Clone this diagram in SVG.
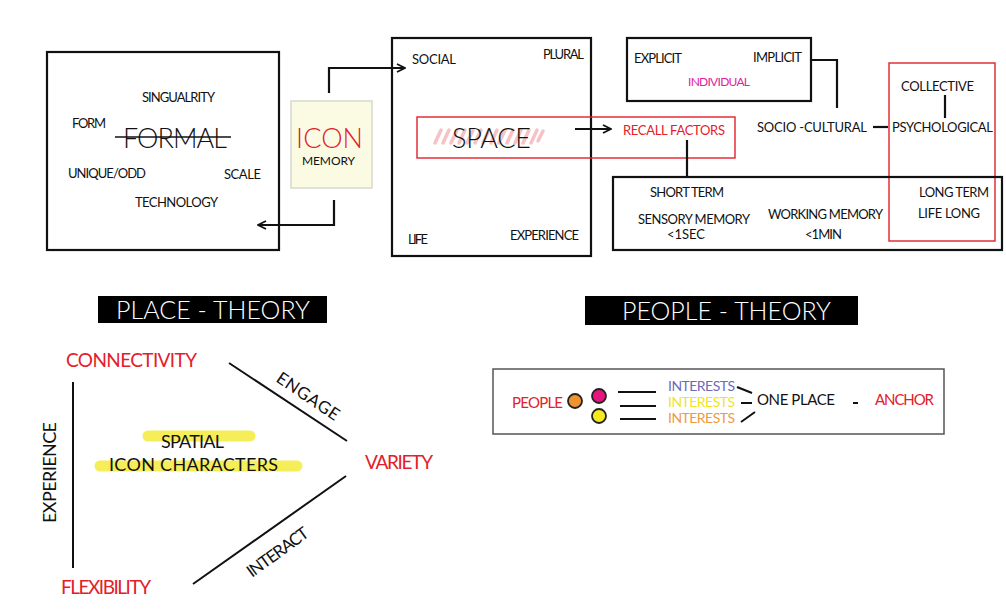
<svg xmlns="http://www.w3.org/2000/svg" width="1006" height="613" viewBox="0 0 1006 613">
<defs>
<marker id="ah" viewBox="0 0 10 10" refX="9" refY="5" markerWidth="10" markerHeight="10" markerUnits="userSpaceOnUse" orient="auto">
<path d="M1,1 L9,5 L1,9" fill="none" stroke="#111" stroke-width="1.8"/>
</marker>
<style>
text{font-family:Lato,"Liberation Sans",sans-serif;font-weight:300;fill:#111}
.s{font-size:13px;font-weight:400}
.m{font-weight:400}
.r{fill:#e3202a}
.box{fill:none;stroke:#111;stroke-width:2.2}
.rbox{fill:none;stroke:#e3202a;stroke-width:1.4}
.ln{fill:none;stroke:#111;stroke-width:2.2}
.hdr{fill:#000}
.ht{fill:#fff;font-size:25px}
.hl{stroke:#f5ec3c;stroke-width:11;stroke-linecap:round;opacity:.85}
</style>
</defs>
<rect width="1006" height="613" fill="#fff"/>

<g id="formal-box">
<rect class="box" x="47" y="52" width="232" height="198"/>
<text class="s" x="142" y="102" textLength="73">SINGUALRITY</text>
<text class="s" x="72" y="128" textLength="34">FORM</text>
<text x="123" y="148" font-size="27" textLength="104">FORMAL</text>
<line x1="115" y1="137" x2="231" y2="137" stroke="#111" stroke-width="1.5"/>
<text class="s" x="68" y="178" textLength="78">UNIQUE/ODD</text>
<text class="s" x="224" y="179" textLength="37">SCALE</text>
<text class="s" x="135" y="207" textLength="83">TECHNOLOGY</text>
</g>

<g id="icon-box">
<rect x="291" y="101" width="81" height="87" fill="#fbfbe4" stroke="#d8d8d0" stroke-width="1.5"/>
<text class="r" x="296" y="148" font-size="27" textLength="67">ICON</text>
<text class="m" x="302" y="165" font-size="12" textLength="53">MEMORY</text>
</g>

<g id="space-box">
<rect class="box" x="392" y="38" width="199" height="218"/>
<text class="s" x="412" y="64" textLength="44">SOCIAL</text>
<text class="s" x="543" y="59" textLength="41">PLURAL</text>
<text class="s" x="408" y="244" textLength="20">LIFE</text>
<text class="s" x="510" y="240" textLength="69">EXPERIENCE</text>
</g>

<g id="space-recall">
<rect class="rbox" x="417" y="117" width="318" height="41"/>
<g stroke="#f6c2c5" stroke-width="3.5" stroke-linecap="round">
<line x1="435" y1="143" x2="441" y2="130"/>
<line x1="443" y1="143" x2="449" y2="130"/>
<line x1="451" y1="143" x2="457" y2="130"/>
<line x1="459" y1="143" x2="465" y2="130"/>
<line x1="467" y1="143" x2="473" y2="130"/>
<line x1="475" y1="143" x2="481" y2="130"/>
<line x1="483" y1="143" x2="489" y2="130"/>
<line x1="491" y1="143" x2="497" y2="130"/>
<line x1="499" y1="143" x2="505" y2="130"/>
<line x1="507" y1="143" x2="513" y2="130"/>
<line x1="515" y1="143" x2="521" y2="130"/>
<line x1="523" y1="143" x2="529" y2="130"/>
<line x1="531" y1="143" x2="537" y2="130"/>
<line x1="538" y1="141" x2="543" y2="131"/>
</g>
<text x="452" y="148" font-size="27" textLength="79">SPACE</text>
<text class="r s" x="623" y="135" textLength="102">RECALL FACTORS</text>
</g>

<g id="individual-box">
<rect class="box" x="627" y="38" width="184" height="63"/>
<text class="s" x="634" y="63" textLength="48">EXPLICIT</text>
<text class="s" x="753" y="62" textLength="49">IMPLICIT</text>
<text class="s" x="688" y="86" style="fill:#e0249a;font-size:12px" textLength="62">INDIVIDUAL</text>
</g>

<g id="socio-cultural">
<text class="s" x="757" y="132" textLength="110">SOCIO -CULTURAL</text>
</g>

<g id="collective-box">
<rect class="rbox" x="889" y="63" width="106" height="178"/>
<text class="s" x="901" y="91" textLength="73">COLLECTIVE</text>
<text class="s" x="892" y="132" textLength="101">PSYCHOLOGICAL</text>
</g>

<g id="memory-box">
<rect class="box" x="613" y="177" width="389" height="73"/>
<text class="s" x="650" y="197" textLength="74">SHORT TERM</text>
<text class="s" x="638" y="224" textLength="112">SENSORY MEMORY</text>
<text class="s" x="667" y="239" textLength="38">&lt;1SEC</text>
<text class="s" x="768" y="219" textLength="115">WORKING MEMORY</text>
<text class="s" x="805" y="239" textLength="37">&lt;1MIN</text>
<text class="s" x="919" y="197" textLength="70">LONG TERM</text>
<text class="s" x="918" y="218" textLength="62">LIFE LONG</text>
</g>

<g id="connectors">
<polyline class="ln" points="329,93 329,68 405,68" marker-end="url(#ah)"/>
<polyline class="ln" points="334,200 334,225 258,225" marker-end="url(#ah)"/>
<line class="ln" x1="575" y1="129" x2="611" y2="129" marker-end="url(#ah)"/>
<line class="ln" x1="687" y1="140" x2="687" y2="177"/>
<polyline class="ln" points="811,60 837,60 837,108"/>
<line class="ln" x1="873" y1="127" x2="888" y2="127"/>
<line class="ln" x1="945" y1="95" x2="945" y2="118"/>
</g>

<g id="place-theory">
<rect class="hdr" x="98" y="296" width="229" height="27"/>
<text class="ht" x="116" y="319" textLength="194">PLACE - THEORY</text>
</g>

<g id="people-theory">
<rect class="hdr" x="585" y="296" width="273" height="29"/>
<text class="ht" x="622" y="320" textLength="209">PEOPLE - THEORY</text>
</g>

<g id="place-triangle">
<line class="hl" x1="148" y1="436" x2="250" y2="436"/>
<line class="hl" x1="100" y1="466" x2="297" y2="466"/>
<text class="m" x="161" y="448" font-size="18" textLength="63">SPATIAL</text>
<text class="m" x="109" y="471" font-size="18" textLength="169">ICON CHARACTERS</text>
<text class="r m" x="66" y="367" font-size="19" textLength="131">CONNECTIVITY</text>
<text class="r m" x="365" y="469" font-size="19" textLength="68">VARIETY</text>
<text class="r m" x="61" y="594" font-size="19" textLength="90">FLEXIBILITY</text>
<text class="m" x="0" y="0" font-size="18" transform="translate(56,523) rotate(-90)" textLength="101">EXPERIENCE</text>
<line x1="73" y1="382" x2="73" y2="568" stroke="#111" stroke-width="2"/>
<line x1="229" y1="363" x2="347" y2="441" stroke="#111" stroke-width="2"/>
<line x1="193" y1="584" x2="346" y2="476" stroke="#111" stroke-width="2"/>
<text class="m" x="0" y="0" font-size="17" transform="translate(275,381) rotate(34)" textLength="72">ENGAGE</text>
<text class="m" x="0" y="0" font-size="17" transform="translate(252,578) rotate(-36)" textLength="72">INTERACT</text>
</g>

<g id="people-row">
<rect x="493" y="369" width="451" height="65" fill="none" stroke="#555" stroke-width="1.5"/>
<text class="r m" x="512" y="408" font-size="15" textLength="51">PEOPLE</text>
<circle cx="575" cy="401" r="7" fill="#f0922e" stroke="#222" stroke-width="1.8"/>
<circle cx="599" cy="396" r="7" fill="#e6157e" stroke="#222" stroke-width="1.8"/>
<circle cx="599" cy="416" r="7" fill="#f7ea1c" stroke="#222" stroke-width="1.8"/>
<g stroke="#111" stroke-width="2">
<line x1="618" y1="392" x2="656" y2="392"/>
<line x1="620" y1="406" x2="656" y2="406"/>
<line x1="620" y1="419" x2="656" y2="419"/>
<line x1="737" y1="387" x2="752" y2="393"/>
<line x1="741" y1="403" x2="752" y2="403"/>
<line x1="741" y1="422" x2="755" y2="412"/>
<line x1="853" y1="403" x2="858" y2="403"/>
</g>
<text class="m" x="668" y="391" font-size="14" style="fill:#6e6ab8" textLength="67">INTERESTS</text>
<text class="m" x="668" y="407" font-size="14" style="fill:#efe51f" textLength="67">INTERESTS</text>
<text class="m" x="668" y="423" font-size="14" style="fill:#ee9a42" textLength="67">INTERESTS</text>
<text class="m" x="757" y="405" font-size="15" textLength="78">ONE PLACE</text>
<text class="r m" x="875" y="405" font-size="15" textLength="59">ANCHOR</text>
</g>
</svg>
